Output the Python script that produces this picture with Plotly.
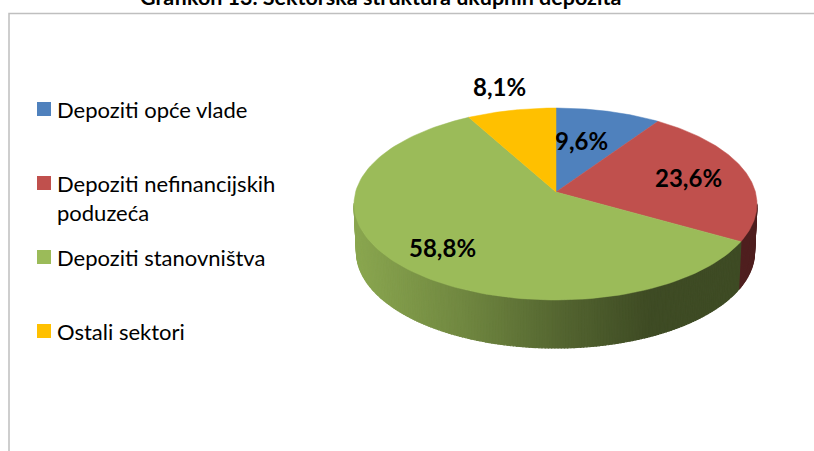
import numpy as np
import plotly.graph_objects as go

title = "Grafikon 13. Sektorska struktura ukupnih depozita"
categories = ["Depoziti opće vlade", "Depoziti nefinancijskih<br>poduzeća", "Depoziti stanovništva", "Ostali sektori"]
values = [9.6, 23.6, 58.8, 8.1]
value_labels = ["9,6%", "23,6%", "58,8%", "8,1%"]
colors = ["#4F81BD", "#C0504D", "#9BBB59", "#FFC000"]

W, H = 814, 451
APEX = (556.0, 192.0)
CX, CY, RX, RY = 555.5, 204.0, 201.5, 96.0
DEPTH, RX_LOW = 48.0, 199.0
FONT = "Lato"

def rim(t):
    """Where the ray for pie angle t (clockwise from top) meets the top ellipse."""
    dx, dy = RX * np.sin(t), -RY * np.cos(t)
    ox, oy = APEX[0] - CX, APEX[1] - CY
    a = (dx / RX) ** 2 + (dy / RY) ** 2
    b = 2 * (ox * dx / RX ** 2 + oy * dy / RY ** 2)
    c = (ox / RX) ** 2 + (oy / RY) ** 2 - 1
    s = (-b + np.sqrt(b * b - 4 * a * c)) / (2 * a)
    return APEX[0] + s * dx, APEX[1] + s * dy

total = sum(values)
edges = 2 * np.pi * np.cumsum([0] + values) / total

def shade(base, x):
    # brightness of the side wall falls from left to right
    stops_x = [355, 470, 560, 650, 760]
    stops_f = [0.89, 0.71, 0.54, 0.40, 0.40]
    f = float(np.interp(x, stops_x, stops_f))
    r, g, b = int(base[1:3], 16), int(base[3:5], 16), int(base[5:7], 16)
    return f"rgb({r*f:.0f},{g*f:.0f},{b*f:.0f})"

fig = go.Figure()

# frame
fig.add_trace(go.Scatter(x=[9, 9, W], y=[H, 13.5, 13.5], mode="lines",
                         line=dict(color="#BFBFBF", width=1.5), hoverinfo="skip", showlegend=False))

# side wall strips
for i in range(4):
    ts = np.linspace(edges[i], edges[i + 1], max(3, int((edges[i + 1] - edges[i]) * 70)))
    for t0, t1 in zip(ts[:-1], ts[1:]):
        x0, y0 = rim(t0)
        x1, y1 = rim(t1)
        if y0 < CY and y1 < CY:
            continue
        low = lambda x: CX + (x - CX) * RX_LOW / RX
        xs = [x0, x1, low(x1), low(x0), x0]
        ys = [y0, y1, y1 + DEPTH, y0 + DEPTH, y0]
        col = shade(colors[i], (x0 + x1) / 2) if i != 1 else "#4F1F1F"
        fig.add_trace(go.Scatter(x=xs, y=ys, mode="lines", fill="toself", fillcolor=col,
                                 line=dict(color=col, width=1.2), hoverinfo="skip", showlegend=False))

# top face
for i in range(4):
    ts = np.linspace(edges[i], edges[i + 1], 120)
    pts = [rim(t) for t in ts]
    xs = [APEX[0]] + [p[0] for p in pts] + [APEX[0]]
    ys = [APEX[1]] + [p[1] for p in pts] + [APEX[1]]
    fig.add_trace(go.Scatter(x=xs, y=ys, mode="lines", fill="toself", fillcolor=colors[i],
                             line=dict(color=colors[i], width=0.5), name=categories[i],
                             hoverinfo="skip", showlegend=False))

# legend
legend_y = [109, 183, 257, 331]
fig.add_trace(go.Scatter(x=[44] * 4, y=legend_y, mode="markers",
                         marker=dict(symbol="square", size=14, color=colors, line=dict(width=0)),
                         hoverinfo="skip", showlegend=False))
ann = []
for cat, y in zip(categories, legend_y):
    for k, line in enumerate(cat.split("<br>")):
        ann.append(dict(x=55, y=y + 29 * k, text=line, xref="x", yref="y", xanchor="left", yanchor="middle",
                        showarrow=False, font=dict(family=FONT, size=22, color="#000000")))

label_pos = [(581, 140.5), (688, 177.5), (442, 247.5), (499, 86.5)]
for text, (x, y) in zip(value_labels, label_pos):
    ann.append(dict(x=x, y=y, text=text, xref="x", yref="y", xanchor="center", yanchor="middle",
                    showarrow=False, font=dict(family=FONT, size=24, color="#000000", weight="bold")))

ann.append(dict(x=380, y=11, text=title, xref="x", yref="y", xanchor="center", yanchor="bottom",
                showarrow=False, font=dict(family=FONT, size=21.5, color="#000000", weight="bold"),
                borderpad=0))

fig.update_layout(width=W, height=H, margin=dict(l=0, r=0, t=0, b=0),
                  paper_bgcolor="white", plot_bgcolor="white", showlegend=False, annotations=ann,
                  xaxis=dict(range=[0, W], visible=False, fixedrange=True),
                  yaxis=dict(range=[H, 0], visible=False, fixedrange=True))
fig.write_html("out.html", config={"displayModeBar": False},
               post_script="document.body.style.margin='0';document.body.style.overflow='hidden';")
